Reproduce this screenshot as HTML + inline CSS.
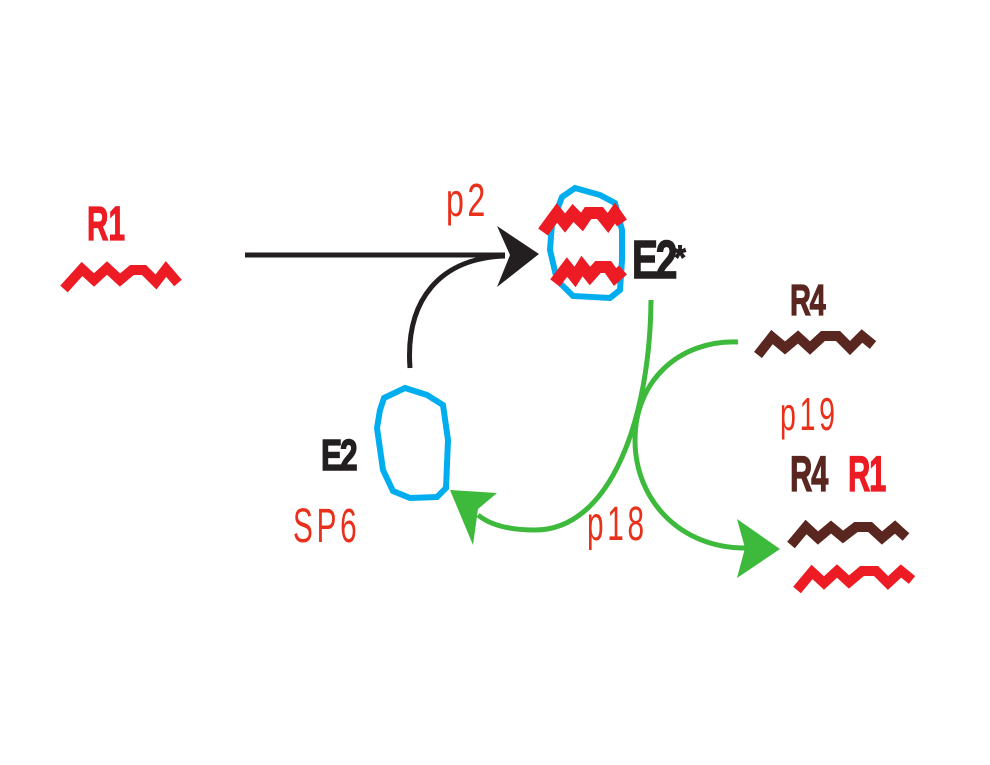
<!DOCTYPE html>
<html><head><meta charset="utf-8"><style>
html,body{margin:0;padding:0;background:#fff;width:990px;height:765px;overflow:hidden}
text{font-family:"Liberation Sans",sans-serif}
</style></head><body>
<svg width="990" height="765" viewBox="0 0 990 765">
<!-- R1 -->
<text transform="translate(87,240) scale(0.62,1)" font-weight="bold" font-size="48" fill="#ed1c24" stroke="#ed1c24" stroke-width="1.2">R1</text>
<polyline points="64,289 82,269 94,280 107,268 120,280 132,270 144,270 156,282 166,269 178,283" fill="none" stroke="#ed1c24" stroke-width="10"/>
<!-- black arrow -->
<line x1="245" y1="255" x2="505" y2="255" stroke="#231f20" stroke-width="5"/>
<path d="M410,368 C405,300 440,258 505,256" fill="none" stroke="#231f20" stroke-width="5"/>
<polygon points="497,226 539,254 497,287 510,255" fill="#231f20"/>
<text transform="translate(446,216) scale(0.7,1)" font-size="46" fill="#e8301a" letter-spacing="5">p2</text>
<!-- E2* -->
<polygon points="575,188 600,195 615,203 622,230 622,260 620,290 610,298 573,296 557,280 550,250 552,223 562,197" fill="none" stroke="#00aeef" stroke-width="6"/>
<polyline points="543,232 557,213 565,223 573,213 582,222 588,213 600,213 608,223 615,213 622,223" fill="none" stroke="#ed1c24" stroke-width="12"/>
<polyline points="555,283 567,267 575,277 582,266 590,276 598,267 608,267 615,277 623,270" fill="none" stroke="#ed1c24" stroke-width="12"/>
<text transform="translate(632,278) scale(0.72,1)" font-weight="bold" font-size="54" fill="#231f20" stroke="#231f20" stroke-width="1.5" letter-spacing="-3">E2</text>
<text transform="translate(674,269) scale(0.9,1)" font-weight="bold" font-size="34" fill="#231f20" stroke="#231f20" stroke-width="1">*</text>
<!-- E2 -->
<polygon points="384,398 405,388 427,395 443,405 448,440 446,488 437,497 410,498 393,491 383,470 377,428 380,410" fill="none" stroke="#00aeef" stroke-width="6"/>
<text transform="translate(321,470) scale(0.72,1)" font-weight="bold" font-size="44" fill="#231f20" stroke="#231f20" stroke-width="1.5" letter-spacing="-3">E2</text>
<text transform="translate(293,542) scale(0.62,1)" font-size="48" fill="#e8301a" letter-spacing="6">SP6</text>
<!-- green -->
<path d="M651,300 C650,420 610,530 535,530 C510,530 490,525 478,515" fill="none" stroke="#3db93b" stroke-width="5"/>
<polygon points="450,490 497,493 478,509 473,545" fill="#3db93b"/>
<path d="M738,342 C680,340 635,380 635,440 C635,500 680,548 745,548" fill="none" stroke="#3db93b" stroke-width="5"/>
<polygon points="737,519 780,549 737,578 745,548" fill="#3db93b"/>
<text transform="translate(587,540) scale(0.62,1)" font-size="48" fill="#e8301a" letter-spacing="6">p18</text>
<!-- R4 -->
<text transform="translate(790,315) scale(0.66,1)" font-weight="bold" font-size="44" fill="#5a2620" stroke="#5a2620" stroke-width="1.2" letter-spacing="-2">R4</text>
<polyline points="758,355 772,337 785,348 798,337 810,348 823,336 838,336 850,348 862,336 873,345" fill="none" stroke="#5a2620" stroke-width="10"/>
<text transform="translate(780,430) scale(0.62,1)" font-size="46" fill="#e8301a" letter-spacing="6">p19</text>
<text transform="translate(790,491) scale(0.62,1)" font-weight="bold" font-size="50" fill="#5a2620" stroke="#5a2620" stroke-width="1.2" letter-spacing="-2">R4</text>
<text transform="translate(848,491) scale(0.62,1)" font-weight="bold" font-size="50" fill="#ed1c24" stroke="#ed1c24" stroke-width="1.2" letter-spacing="-2">R1</text>
<polyline points="791,545 806,527 818,538 831,527 843,537 856,527 870,527 882,538 895,527 906,537" fill="none" stroke="#5a2620" stroke-width="10"/>
<polyline points="797,590 812,572 824,583 837,571 849,582 862,571 876,571 888,583 901,571 912,580" fill="none" stroke="#ed1c24" stroke-width="10"/>
</svg>
</body></html>
